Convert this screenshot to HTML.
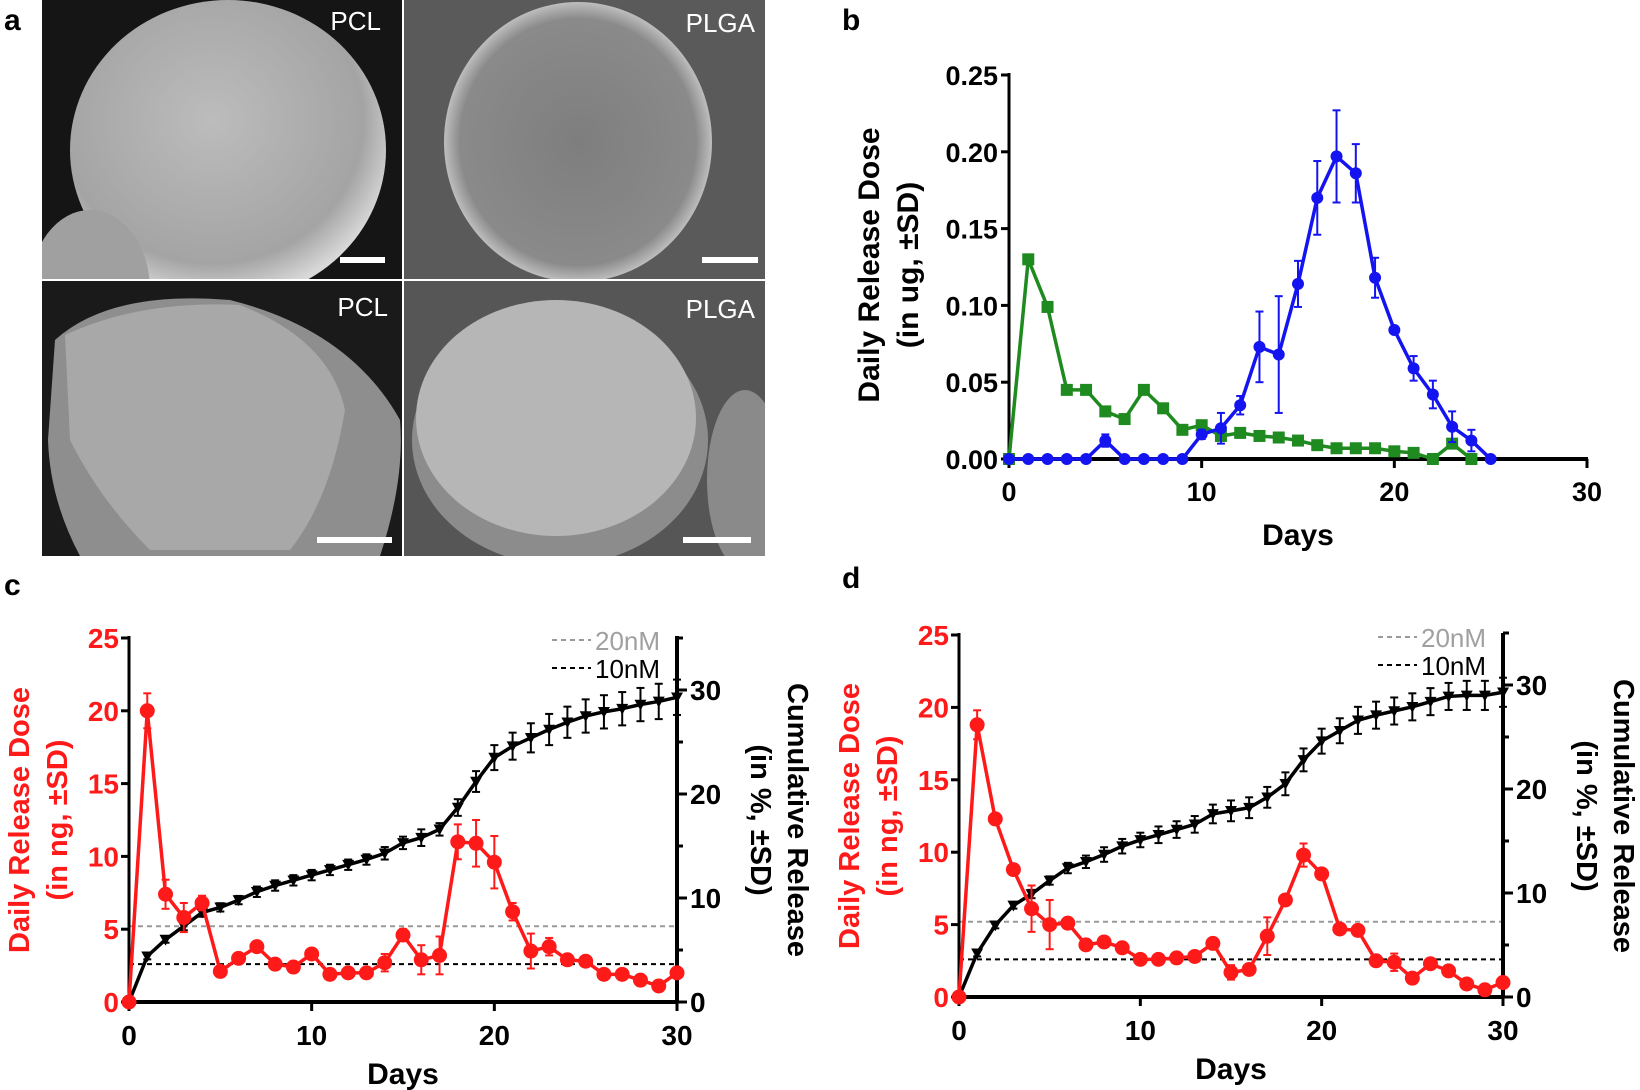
<!DOCTYPE html>
<html><head><meta charset="utf-8"><style>
html,body{margin:0;padding:0;background:#fff;}
svg{display:block;font-family:"Liberation Sans",Arial,sans-serif;}
</style></head><body>
<svg id="fig" width="1640" height="1090" viewBox="0 0 1640 1090" xmlns="http://www.w3.org/2000/svg">
<defs>
<radialGradient id="gA" cx="0.45" cy="0.4" r="0.6"><stop offset="0" stop-color="#bcbcbc"/><stop offset="0.8" stop-color="#a4a4a4"/><stop offset="1" stop-color="#d8d8d8"/></radialGradient>
<radialGradient id="gB" cx="0.5" cy="0.5" r="0.55"><stop offset="0" stop-color="#7e7e7e"/><stop offset="0.8" stop-color="#8a8a8a"/><stop offset="1" stop-color="#e8e8e8"/></radialGradient>
<clipPath id="c1"><rect x="42" y="0" width="360" height="279"/></clipPath>
<clipPath id="c2"><rect x="404" y="0" width="361" height="279"/></clipPath>
<clipPath id="c3"><rect x="42" y="281" width="360" height="275"/></clipPath>
<clipPath id="c4"><rect x="404" y="281" width="361" height="275"/></clipPath>
</defs>
<g>
<text x="4" y="30" font-size="30" font-weight="bold">a</text>
<g clip-path="url(#c1)">
<rect x="42" y="0" width="360" height="279" fill="#151515"/>
<ellipse cx="228" cy="150" rx="158" ry="150" fill="url(#gA)"/>
<ellipse cx="90" cy="290" rx="60" ry="80" fill="#a0a0a0"/>
<rect x="340" y="257" width="45" height="6" fill="#fff"/>
</g>
<text x="381" y="30" font-size="26" fill="#fff" text-anchor="end">PCL</text>
<g clip-path="url(#c2)">
<rect x="404" y="0" width="361" height="279" fill="#5a5a5a"/>
<ellipse cx="578" cy="142" rx="134" ry="140" fill="url(#gB)"/>
<rect x="702" y="257" width="56" height="6" fill="#fff"/>
</g>
<text x="755" y="32" font-size="26" fill="#fff" text-anchor="end">PLGA</text>
<g clip-path="url(#c3)">
<rect x="42" y="281" width="360" height="275" fill="#1a1a1a"/>
<path d="M55,340 Q110,290 230,300 Q350,330 400,420 Q405,480 380,556 L80,556 Q50,500 48,440 Z" fill="#8e8e8e"/>
<path d="M65,335 Q140,300 240,305 Q330,340 345,410 Q330,500 290,550 L150,550 Q100,500 70,440 Z" fill="#a8a8a8"/>
<rect x="317" y="537" width="75" height="6" fill="#fff"/>
</g>
<text x="388" y="316" font-size="26" fill="#fff" text-anchor="end">PCL</text>
<g clip-path="url(#c4)">
<rect x="404" y="281" width="361" height="275" fill="#565656"/>
<ellipse cx="560" cy="440" rx="148" ry="125" fill="#8c8c8c"/>
<ellipse cx="556" cy="418" rx="140" ry="118" fill="#b6b6b6"/>
<ellipse cx="745" cy="480" rx="38" ry="90" fill="#8a8a8a"/>
<rect x="683" y="537" width="68" height="6" fill="#fff"/>
</g>
<text x="755" y="318" font-size="26" fill="#fff" text-anchor="end">PLGA</text>
</g>
</svg>
<script>
const NS="http://www.w3.org/2000/svg";
const svg=document.getElementById('fig');
// ---- Panel b data ----
const bDaysGreen=[0,1,2,3,4,5,6,7,8,9,10,11,12,13,14,15,16,17,18,19,20,21,22,23,24];
const bGreen=[0,0.13,0.099,0.045,0.045,0.031,0.026,0.045,0.033,0.019,0.022,0.015,0.017,0.015,0.014,0.012,0.009,0.007,0.007,0.007,0.005,0.004,0,0.01,0];
const bDaysBlue=[0,1,2,3,4,5,6,7,8,9,10,11,12,13,14,15,16,17,18,19,20,21,22,23,24,25];
const bBlue=[0,0,0,0,0,0.012,0,0,0,0,0.016,0.02,0.035,0.073,0.068,0.114,0.17,0.197,0.186,0.118,0.084,0.059,0.042,0.021,0.012,0];
const bBlueErr=[0,0,0,0,0,0.004,0,0,0,0,0.003,0.01,0.006,0.023,0.038,0.015,0.024,0.03,0.019,0.013,0.002,0.008,0.009,0.01,0.007,0];
const bYTicks=["0.00","0.05","0.10","0.15","0.20","0.25"];
const xTickLabels=["0","10","20","30"];
// ---- Panel c data ----
const days30=[0,1,2,3,4,5,6,7,8,9,10,11,12,13,14,15,16,17,18,19,20,21,22,23,24,25,26,27,28,29,30];
const cDaily=[0,20,7.4,5.8,6.8,2.1,3,3.8,2.6,2.4,3.3,1.9,2,2,2.7,4.6,2.9,3.2,11,10.9,9.6,6.2,3.5,3.8,2.9,2.8,1.9,1.9,1.5,1.1,2];
const cDailyErr=[0,1.2,1,1,0.5,0,0,0,0,0,0,0,0,0,0.6,0.4,1,1.3,1.2,1.6,1.8,0.6,1.2,0.6,0,0,0,0,0,0,0];
const cCum=[0,4.4,6,7.3,8.6,9.1,9.8,10.6,11.2,11.7,12.2,12.7,13.2,13.7,14.3,15.3,15.8,16.6,18.7,21.2,23.5,24.6,25.4,26.2,26.9,27.5,27.9,28.2,28.6,28.9,29.3];
const cCumErr=[0,0.3,0.3,0.4,0.4,0.4,0.4,0.5,0.5,0.5,0.5,0.5,0.5,0.5,0.6,0.6,0.8,0.6,0.8,1,1.2,1.3,1.4,1.5,1.5,1.6,1.6,1.6,1.6,1.7,1.7];
const cLines=[5.2,2.6];
// ---- Panel d data ----
const dDaily=[0,18.8,12.3,8.8,6.1,5,5.1,3.6,3.8,3.4,2.6,2.6,2.7,2.8,3.7,1.7,1.9,4.2,6.7,9.8,8.5,4.7,4.6,2.5,2.4,1.3,2.3,1.8,0.9,0.5,1];
const dDailyErr=[0,1,0,0,1.6,1.7,0,0,0,0,0,0,0,0,0,0.5,0,1.3,0,0.8,0,0,0,0,0.6,0,0,0,0,0,0];
const dCum=[0,4.2,6.9,8.8,9.9,11.2,12.4,13,13.7,14.5,15.1,15.6,16.1,16.6,17.6,17.9,18.2,19.2,20.5,22.8,24.6,25.6,26.6,27.1,27.5,27.9,28.4,28.9,29,29,29.3];
const dCumErr=[0,0.3,0.3,0.3,0.4,0.4,0.5,0.6,0.7,0.7,0.7,0.8,0.8,0.8,0.9,1,1,1,1.1,1.1,1.2,1.2,1.3,1.3,1.3,1.3,1.3,1.3,1.4,1.4,1.4];
const dLines=[5.2,2.6];
const leftTicks=["0","5","10","15","20","25"];
const rightTicks=["0","10","20","30"];

function el(tag,attrs,parent){const e=document.createElementNS(NS,tag);for(const k in attrs)e.setAttribute(k,attrs[k]);(parent||svg).appendChild(e);return e;}
function txt(x,y,s,attrs,parent){const t=el('text',Object.assign({x:x,y:y},attrs),parent);t.textContent=s;return t;}

function drawMarker(g,type,x,y,color,size){
  let m;
  if(type==='circle') m=el('circle',{cx:x,cy:y,r:size,fill:color},g);
  else if(type==='square') m=el('rect',{x:x-size,y:y-size,width:2*size,height:2*size,fill:color},g);
  else m=el('path',{d:`M${x-size},${y-size*0.8} L${x+size},${y-size*0.8} L${x},${y+size} Z`,fill:color},g);
  return m;
}
function series(g,xs,ys,errs,sx,sy,color,type,size,lw,name){
  const sg=el('g',{},g);
  
  
  if(errs){xs.forEach((d,i)=>{if(errs[i]>0){const x=sx(d),y1=sy(ys[i]+errs[i]),y2=sy(Math.max(0,ys[i]-errs[i]));
    el('line',{x1:x,y1:y1,x2:x,y2:y2,stroke:color,'stroke-width':2},sg);
    el('line',{x1:x-4,y1:y1,x2:x+4,y2:y1,stroke:color,'stroke-width':2},sg);
    el('line',{x1:x-4,y1:y2,x2:x+4,y2:y2,stroke:color,'stroke-width':2},sg);}});}
  el('polyline',{points:xs.map((d,i)=>sx(d)+','+sy(ys[i])).join(' '),fill:'none',stroke:color,'stroke-width':lw,'stroke-linejoin':'round'},sg);
  xs.forEach((d,i)=>{const m=drawMarker(sg,type,sx(d),sy(ys[i]),color,size);
    
    });
}

// ===== Panel b =====
(function(){
  const g=el('g',{});
  
  
  const x0=1009,x1=1587,y0=459,y1=75;
  const sx=d=>x0+(x1-x0)*d/30, sy=v=>y0-(y0-y1)*v/0.25;
  txt(842,30,'b',{'font-size':30,'font-weight':'bold'},g);
  el('line',{x1:x0,y1:y1-2,x2:x0,y2:y0+1,stroke:'#000','stroke-width':3},g);
  el('line',{x1:x0-1,y1:y0,x2:x1+1,y2:y0,stroke:'#000','stroke-width':4},g);
  bYTicks.forEach((t,i)=>{const v=parseFloat(t);el('line',{x1:x0-8,y1:sy(v),x2:x0,y2:sy(v),stroke:'#000','stroke-width':3},g);
    const l=txt(x0-11,sy(v)+10,t,{'font-size':27,'font-weight':'bold','text-anchor':'end'},g);
    
    });
  xTickLabels.forEach(t=>{const v=+t;el('line',{x1:sx(v),y1:y0,x2:sx(v),y2:y0+9,stroke:'#000','stroke-width':3},g);
    const l=txt(sx(v),y0+42,t,{'font-size':27,'font-weight':'bold','text-anchor':'middle'},g);
    
    });
  const xt=txt(1298,545,'Days',{'font-size':30,'font-weight':'bold','text-anchor':'middle'},g);
  
  
  const yt=el('text',{transform:'translate(879,265) rotate(-90)','font-size':30,'font-weight':'bold','text-anchor':'middle'},g);
  
  
  el('tspan',{x:0,dy:0},yt).textContent='Daily Release Dose';
  el('tspan',{x:0,dy:39},yt).textContent='(in ug, \u00B1SD)';
  series(g,bDaysGreen,bGreen,null,sx,sy,'#1f8a1f','square',6,3.5,'pcl-series');
  series(g,bDaysBlue,bBlue,bBlueErr,sx,sy,'#1414f0','circle',6,3.5,'plga-series');
})();

function dualPanel(opts){
  const g=el('g',{});
  
  
  const {x0,x1,y0,y1,r30}=opts;
  const sx=d=>x0+(x1-x0)*d/30, sy=v=>y0-(y0-y1)*v/25, sr=v=>y0-(y0-r30)*v/30;
  const lab=txt(opts.lx,opts.ly,opts.letter,{'font-size':30,'font-weight':'bold'},g);
  
  
  el('line',{x1:x0,y1:sy(opts.lines[0]),x2:x1,y2:sy(opts.lines[0]),stroke:'#9a9a9a','stroke-width':2,'stroke-dasharray':'5,4'},g);
  el('line',{x1:x0,y1:sy(opts.lines[1]),x2:x1,y2:sy(opts.lines[1]),stroke:'#000','stroke-width':2,'stroke-dasharray':'5,4'},g);
  el('line',{x1:x0,y1:y1-2,x2:x0,y2:y0+1,stroke:'#000','stroke-width':3},g);
  el('line',{x1:x1,y1:y1-2,x2:x1,y2:y0+1,stroke:'#000','stroke-width':4},g);
  el('line',{x1:x0-1,y1:y0,x2:x1+1,y2:y0,stroke:'#000','stroke-width':4},g);
  leftTicks.forEach(t=>{const v=+t;el('line',{x1:x0-8,y1:sy(v),x2:x0,y2:sy(v),stroke:'#000','stroke-width':3},g);
    const l=txt(x0-10,sy(v)+10,t,{'font-size':28,'fill':'#ff1a1a','text-anchor':'end','font-weight':'bold'},g);
    
    });
  [5,15,25,35].forEach(v=>el('line',{x1:x1,y1:sr(v),x2:x1+6,y2:sr(v),stroke:'#000','stroke-width':3},g));
  rightTicks.forEach(t=>{const v=+t;el('line',{x1:x1,y1:sr(v),x2:x1+10,y2:sr(v),stroke:'#000','stroke-width':3},g);
    const l=txt(x1+13,sr(v)+10,t,{'font-size':28,'font-weight':'bold'},g);
    
    });
  xTickLabels.forEach(t=>{const v=+t;el('line',{x1:sx(v),y1:y0,x2:sx(v),y2:y0+9,stroke:'#000','stroke-width':3},g);
    const l=txt(sx(v),y0+43,t,{'font-size':28,'font-weight':'bold','text-anchor':'middle'},g);
    
    });
  const xt=txt((x0+x1)/2,y0+82,'Days',{'font-size':30,'font-weight':'bold','text-anchor':'middle'},g);
  
  
  const yt=el('text',{transform:`translate(${x0-100},${(y0+y1)/2})rotate(-90)`,'font-size':29,'font-weight':'bold','text-anchor':'middle',fill:'#ff1a1a'},g);
  
  
  el('tspan',{x:0,dy:0},yt).textContent='Daily Release Dose';
  el('tspan',{x:0,dy:38},yt).textContent='(in ng, \u00B1SD)';
  const rt=el('text',{transform:`translate(${x1+111},${(y0+y1)/2}) rotate(90)`,'font-size':29,'font-weight':'bold','text-anchor':'middle'},g);
  
  
  el('tspan',{x:0,dy:0},rt).textContent='Cumulative Release';
  el('tspan',{x:0,dy:37},rt).textContent='(in %, \u00B1SD)';
  const lg=el('g',{},g);
  
  
  el('line',{x1:x1-125,y1:y1+2,x2:x1-86,y2:y1+2,stroke:'#9a9a9a','stroke-width':2,'stroke-dasharray':'5,4'},lg);
  const l1=txt(x1-82,y1+12,'20nM',{'font-size':26,fill:'#a0a0a0'},lg);
  
  
  el('line',{x1:x1-125,y1:y1+30,x2:x1-86,y2:y1+30,stroke:'#000','stroke-width':2,'stroke-dasharray':'5,4'},lg);
  const l2=txt(x1-82,y1+40,'10nM',{'font-size':26},lg);
  
  
  series(g,days30,opts.cum,opts.cumErr,sx,sr,'#000','tri',6,3.5,'cumulative-release-series');
  series(g,days30,opts.daily,opts.dailyErr,sx,sy,'#ff1a1a','circle',7.5,3.5,'daily-release-series');
}
dualPanel({name:'panel-c-chart',letter:'c',lx:4,ly:595,x0:129,x1:677,y0:1002,y1:638,r30:690,daily:cDaily,dailyErr:cDailyErr,cum:cCum,cumErr:cCumErr,lines:cLines});
dualPanel({name:'panel-d-chart',letter:'d',lx:842,ly:588,x0:959,x1:1503,y0:997,y1:635,r30:685,daily:dDaily,dailyErr:dDailyErr,cum:dCum,cumErr:dCumErr,lines:dLines});
</script>
</body></html>
